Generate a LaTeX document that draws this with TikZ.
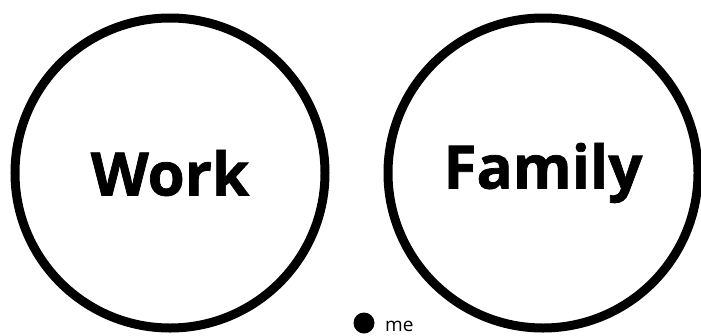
\documentclass[tikz,border=0pt]{standalone}
\usepackage{fontspec}
\setmainfont{Open Sans}
\newfontfamily\heavyfont[BoldFeatures={FakeBold=1.2}]{Open Sans}
\begin{document}
\begin{tikzpicture}[x=1pt,y=-1pt,
  bigcircle/.style={circle, draw=black, line width=9pt, inner sep=0pt, minimum size=310pt,
    font=\fontsize{60}{60}\heavyfont\bfseries},
  dotnode/.style={circle, fill=black, inner sep=0pt, minimum size=21pt},
  melabel/.style={anchor=base west, inner sep=0pt, font=\fontsize{19}{19}\selectfont}]
\useasboundingbox (0,0) rectangle (701,335);
\node[bigcircle] (work) at (170,173) {Work};
\node[bigcircle] (family) at (543,173) {Family};
\node[dotnode] (medot) at (364,323) {};
\node[melabel] (me) at (385,331) {me};
\end{tikzpicture}
\end{document}
